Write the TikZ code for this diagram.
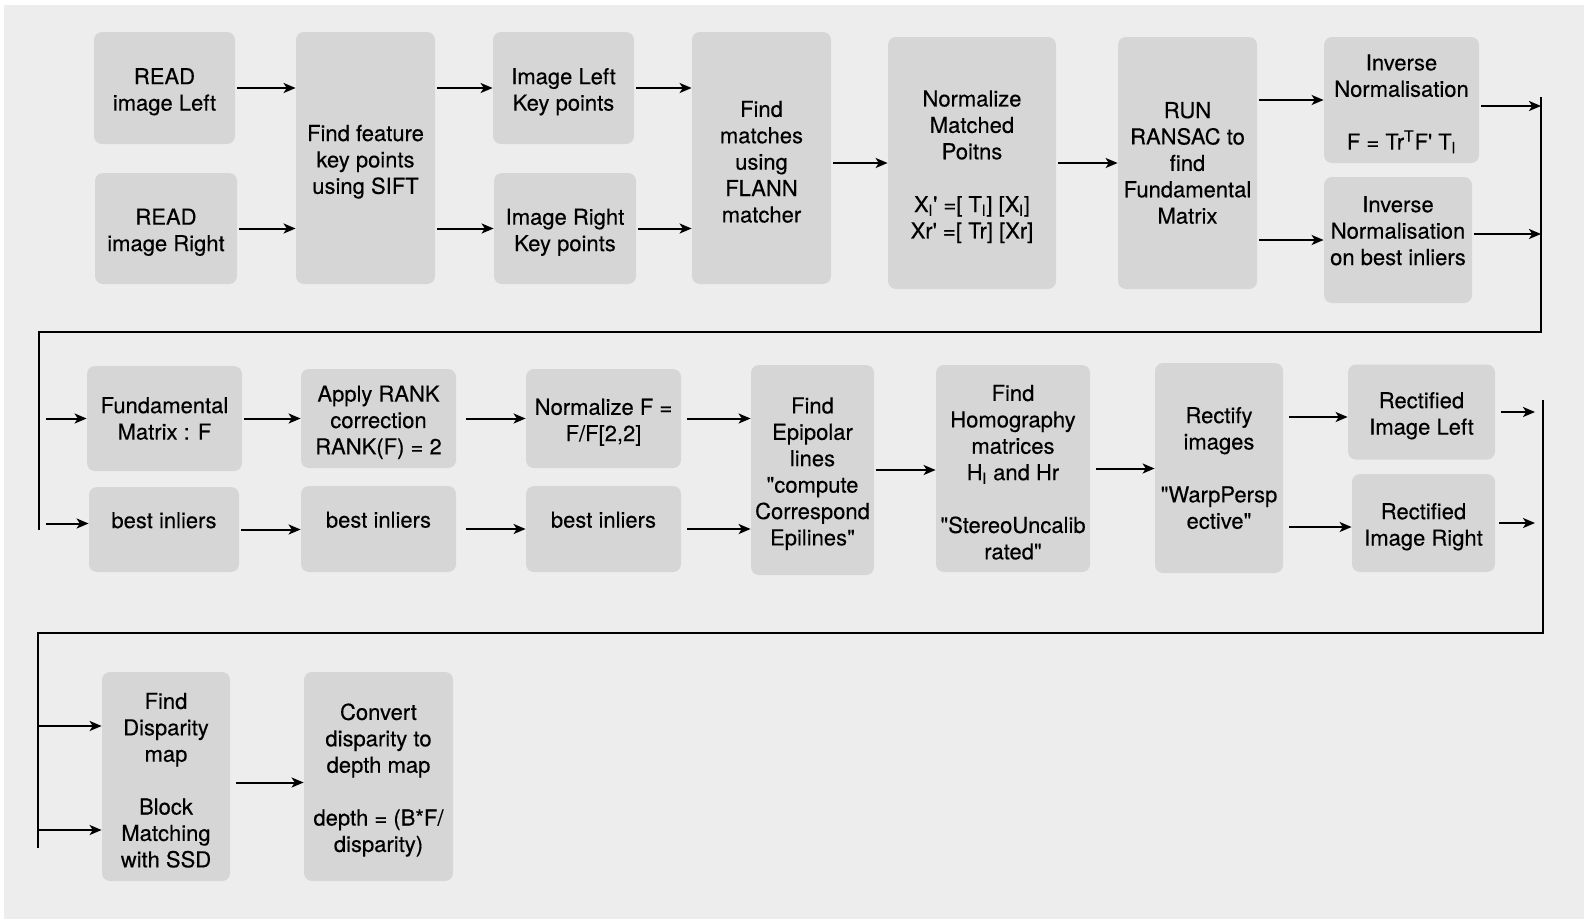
\documentclass[tikz,border=0pt]{standalone}
\usepackage{fontspec}
\usepackage{tikz}
\usetikzlibrary{arrows.meta}
\newfontfamily\boxfont{TeX Gyre Heros}[Ligatures=TeXOff,FakeBold=0.3]
\definecolor{pagegray}{RGB}{237,237,237}
\definecolor{boxgray}{RGB}{214,214,214}
\newcommand{\sub}[1]{\textsubscript{#1}}
\newcommand{\blank}{\\[13.2pt]}
\newcommand{\st}{\rule{0pt}{11.8pt}}

\begin{document}
\begin{tikzpicture}[x=0.5pt,y=-0.5pt,
    box/.style={fill=boxgray, rounded corners=4pt, align=center, inner sep=0pt,
      font={\boxfont\fontsize{11}{13.2}\selectfont}},
    wh/.style 2 args={minimum width=#1*0.5pt, minimum height=#2*0.5pt},
    arr/.style={-{Stealth[length=6pt,width=5pt,inset=1.6pt]}, line width=1pt, shorten <=1pt},
    bar/.style={line width=1.3pt}]
  \useasboundingbox (0,0) rectangle (1584,922);
  \fill[white] (0,0) rectangle (1584,922);
  \fill[pagegray] (4,5) rectangle (1584,919);

  \node[box, wh={141}{112}] (readL) at (164.5,88) {\st READ\\image Left};
  \node[box, wh={142}{111}] (readR) at (166,228.5) {\st READ\\image Right};
  \node[box, wh={139}{252}] (sift) at (365.5,158) {\st Find feature\\key points\\using SIFT};
  \node[box, wh={141}{112}] (kpL) at (563.5,88) {\st Image Left\\Key points};
  \node[box, wh={142}{111}] (kpR) at (565,228.5) {\st Image Right\\Key points};
  \node[box, wh={139}{252}] (flann) at (761.5,158) {\st Find\\matches\\using\\FLANN\\matcher};
  \node[box, wh={168}{252}] (norm) at (972,163)
    {\st Normalize\\Matched\\Poitns\blank X\sub{l}' =[ T\sub{l}] [X\sub{l}]\\Xr' =[ Tr] [Xr]};
  \node[box, wh={139}{252}] (ransac) at (1187.5,163) {RUN\\RANSAC to\\find\\Fundamental\\Matrix};
  \node[box, wh={155}{126}] (invF) at (1401.5,100)
    {\st Inverse\\Normalisation\blank F = Tr\textsuperscript{T}F' T\sub{l}};
  \node[box, wh={148}{126}] (invB) at (1398,240) {\st Inverse\\Normalisation\\on best inliers\\\mbox{}};

  \node[box, wh={155}{105}] (fundF) at (164.5,418.5) {Fundamental\\Matrix : F};
  \node[box, wh={150}{85}] (inlA) at (164,529.5) {\st best inliers\\\mbox{}};
  \node[box, wh={155}{99}] (rank) at (378.5,418.5) {\st Apply RANK\\correction\\RANK(F) = 2};
  \node[box, wh={155}{86}] (inlB) at (378.5,529) {\st best inliers\\\mbox{}};
  \node[box, wh={155}{99}] (normF) at (603.5,418.5) {\st Normalize F =\\F/F[2,2]};
  \node[box, wh={155}{86}] (inlC) at (603.5,529) {\st best inliers\\\mbox{}};
  \node[box, wh={123}{210}] (epi) at (812.5,470)
    {\st Find\\Epipolar\\lines\\"compute\\Correspond\\Epilines"};
  \node[box, wh={154}{207}] (homo) at (1013,468.5)
    {\st Find\\Homography\\matrices\\H\sub{l} and Hr\blank"StereoUncalib\\rated"};
  \node[box, wh={128}{210}] (rectify) at (1219,468) {Rectify\\images\blank"WarpPersp\\ective"};
  \node[box, wh={147}{95}] (rectL) at (1421.5,412) {\st Rectified\\Image Left};
  \node[box, wh={143}{98}] (rectR) at (1423.5,523) {\st Rectified\\Image Right};

  \node[box, wh={128}{209}] (disp) at (166,776.5)
    {\st Find\\Disparity\\map\blank Block\\Matching\\with SSD};
  \node[box, wh={149}{209}] (depth) at (378.5,776.5)
    {\st Convert\\disparity to\\depth map\blank depth = (B*F/\\disparity)};

  \coordinate (barA1) at (1541,97);
  \coordinate (barA2) at (1541,332);
  \coordinate (barA3) at (39,332);
  \coordinate (barA4) at (39,530);
  \coordinate (barB1) at (1543,400);
  \coordinate (barB2) at (1543,633);
  \coordinate (barB3) at (38,633);
  \coordinate (barB4) at (38,848);
  \coordinate (dispA) at (38,726);
  \coordinate (dispB) at (38,830);
  \draw[bar] (barA1) -- (barA2) -- (barA3) -- (barA4);
  \draw[bar] (barB1) -- (barB2) -- (barB3) -- (barB4);

  \draw[arr] (readL.east) -- (readL.east -| sift.west);
  \draw[arr] (readR.east) -- (readR.east -| sift.west);
  \draw[arr] (kpL.west -| sift.east) -- (kpL.west);
  \draw[arr] (kpR.west -| sift.east) -- (kpR.west);
  \draw[arr] (kpL.east) -- (kpL.east -| flann.west);
  \draw[arr] (kpR.east) -- (kpR.east -| flann.west);
  \draw[arr] (norm.west -| flann.east) -- (norm.west);
  \draw[arr] (norm.east) -- (norm.east -| ransac.west);
  \draw[arr] (invF.west -| ransac.east) -- (invF.west);
  \draw[arr] (invB.west -| ransac.east) -- (invB.west);
  \draw[arr] ([yshift=-3pt]invF.east) -- ([yshift=-3pt]invF.east -| barA1);
  \draw[arr] ([yshift=3pt]invB.east) -- ([yshift=3pt]invB.east -| barA1);

  \draw[arr] ([xshift=2.5pt]fundF.west -| barA3) -- (fundF.west);
  \draw[arr] ([xshift=2.5pt,yshift=3pt]inlA.west -| barA3) -- ([yshift=3pt]inlA.west);
  \draw[arr] (fundF.east) -- (fundF.east -| rank.west);
  \draw[arr] (inlA.east) -- (inlA.east -| inlB.west);
  \draw[arr, shorten <=5pt] (rank.east) -- (rank.east -| normF.west);
  \draw[arr, shorten <=5pt] (inlB.east) -- (inlB.east -| inlC.west);
  \draw[arr, shorten <=3pt] (normF.east) -- (normF.east -| epi.west);
  \draw[arr, shorten <=3pt] (inlC.east) -- (inlC.east -| epi.west);
  \draw[arr] (epi.east) -- (epi.east -| homo.west);
  \draw[arr, shorten <=3pt] (homo.east) -- (homo.east -| rectify.west);
  \draw[arr, shorten <=3pt] ([yshift=-2.5pt]rectL.west -| rectify.east) -- ([yshift=-2.5pt]rectL.west);
  \draw[arr, shorten <=3pt] ([yshift=-2pt]rectR.west -| rectify.east) -- ([yshift=-2pt]rectR.west);
  \draw[arr, shorten <=3pt, shorten >=4pt] (rectL.east) -- (rectL.east -| barB1);
  \draw[arr, shorten <=2pt, shorten >=4pt] (rectR.east) -- (rectR.east -| barB1);

  \draw[arr, shorten <=0pt] (dispA) -- (dispA -| disp.west);
  \draw[arr, shorten <=0pt] (dispB) -- (dispB -| disp.west);
  \draw[arr, shorten <=3pt] ([yshift=-3pt]disp.east) -- ([yshift=-3pt]disp.east -| depth.west);
\end{tikzpicture}
\end{document}
